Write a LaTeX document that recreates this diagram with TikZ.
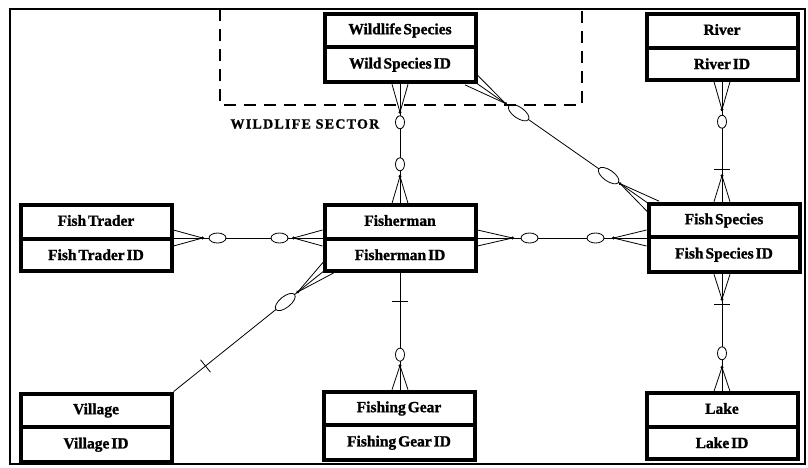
\documentclass[tikz,border=0pt]{standalone}
\usepackage{fontspec}
\setmainfont[WordSpace=0.5, BoldFeatures={FakeBold=1.2}]{Liberation Serif}
\newfontfamily\sectorfont[LetterSpace=9, BoldFeatures={FakeBold=1.2}]{Liberation Serif}
\usetikzlibrary{shapes.multipart, decorations.markings, calc}

\pgfdeclarelayer{background}
\pgfsetlayers{background,main}

\tikzset{
	entity/.style={
		rectangle split, rectangle split parts=2,
		draw, line width=4pt, fill=white,
		minimum width=151pt, inner ysep=8.5pt,
		text height=10pt, text depth=2.5pt,
		font=\fontsize{15.5}{17}\selectfont\bfseries
	},
	link/.style={line width=0.8pt},
	sector/.style={line width=1.2pt, dash pattern=on 12pt off 8pt},
	oval length/.store in=\ovallen, oval length=8.5pt,
	oval width/.store in=\ovalwid, oval width=5pt,
	upright/.style={oval length=6.5pt, oval width=4.5pt},
	slanted/.style={oval length=12pt, oval width=5.5pt},
	% crow's foot, circle and bar at the start of a link
	many start/.style={postaction={decorate, decoration={markings,
		mark=at position #1 with {
			\draw (-#1, 8pt) -- (0pt, 0pt) -- (-#1, -8pt);
			\fill (0pt, 0pt) circle [radius=1.6pt];}}}},
	zero start/.style={postaction={decorate, decoration={markings,
		mark=at position #1 with {
			\draw[fill=white] (0pt, 0pt) ellipse [x radius=\ovallen, y radius=\ovalwid];}}}},
	one start/.style={postaction={decorate, decoration={markings,
		mark=at position #1 with {\draw (0pt, -8pt) -- (0pt, 8pt);}}}},
	% and the same at its end
	many end/.style={postaction={decorate, decoration={markings,
		mark=at position -#1 with {
			\draw (#1, 8pt) -- (0pt, 0pt) -- (#1, -8pt);
			\fill (0pt, 0pt) circle [radius=1.6pt];}}}},
	zero end/.style={postaction={decorate, decoration={markings,
		mark=at position -#1 with {
			\draw[fill=white] (0pt, 0pt) ellipse [x radius=\ovallen, y radius=\ovalwid];}}}},
	one end/.style={postaction={decorate, decoration={markings,
		mark=at position -#1 with {\draw (0pt, -8pt) -- (0pt, 8pt);}}}}
}

\begin{document}
\begin{tikzpicture}[x=1pt, y=-1pt]
	\useasboundingbox (0, 0) rectangle (808, 467);
	\draw[line width=2.5pt] (10, 9) rectangle (805, 464);

	% wildlife sector
	\draw[sector] (220, 9) |- (582, 105) -- (582, 9);
	\node[anchor=west, font=\sectorfont\fontsize{14}{16}\selectfont\bfseries]
		(sectorname) at (227, 124) {WILDLIFE SECTOR};

	% entities
	\node[entity] (wild)    at (400, 48)  {Wildlife Species \nodepart{two} Wild Species ID};
	\node[entity] (river)   at (722, 47)  {River \nodepart{two} River ID};
	\node[entity] (trader)  at (96, 238)  {Fish Trader \nodepart{two} Fish Trader ID};
	\node[entity] (fisher)  at (400, 238) {Fisherman \nodepart{two} Fisherman ID};
	\node[entity] (species) at (724, 238) {Fish Species \nodepart{two} Fish Species ID};
	\node[entity] (village) at (96, 428)  {Village \nodepart{two} Village ID};
	\node[entity] (gear)    at (399, 426) {Fishing Gear \nodepart{two} Fishing Gear ID};
	\node[entity] (lake)    at (722, 426) {Lake \nodepart{two} Lake ID};

	% relationships
	\begin{pgfonlayer}{background}
		\draw[link, upright, many start=28pt, zero start=38pt, many end=27pt, zero end=39pt]
			(wild.south) -- (fisher.north);
		\draw[link, slanted, many start=44pt, zero start=60pt, many end=42pt, zero end=56pt]
			($(wild.south east)+(-8, -6)$) -- ($(species.north west)+(8, 6)$);
		\draw[link, upright, many start=28pt, zero start=40pt, many end=26pt, one end=32pt]
			(river.south) -- (river.south |- species.north);
		\draw[link, many start=29pt, zero start=44pt, many end=29pt, zero end=43pt]
			(trader.east) -- (fisher.west);
		\draw[link, many start=35pt, zero start=52pt, many end=33pt, zero end=51pt]
			(fisher.east) -- (species.west);
		\draw[link, slanted, many start=42pt, zero start=58pt, one end=41pt]
			($(fisher.south west)+(8, -7)$) -- (village.north east);
		\draw[link, upright, one start=29pt, many end=24pt, zero end=35pt]
			(fisher.south) -- (fisher.south |- gear.north);
		\draw[link, upright, many start=25pt, one start=30pt, many end=24pt, zero end=38pt]
			(lake.north |- species.south) -- (lake.north);
	\end{pgfonlayer}
\end{tikzpicture}
\end{document}
